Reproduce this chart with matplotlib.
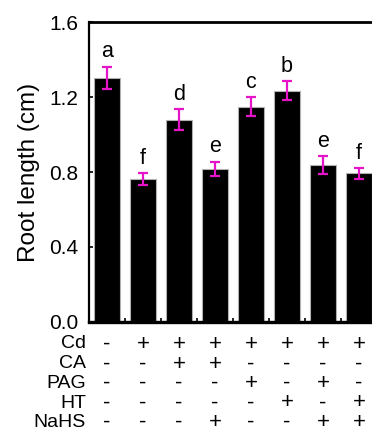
import matplotlib
matplotlib.use("Agg")
import matplotlib.pyplot as plt
import numpy as np

plt.rcParams['font.family'] = ['Liberation Sans', 'DejaVu Sans']

values = [1.304, 0.762, 1.080, 0.816, 1.149, 1.235, 0.837, 0.793]
errors = [0.060, 0.034, 0.055, 0.040, 0.052, 0.051, 0.050, 0.028]
letters = ['a', 'f', 'd', 'e', 'c', 'b', 'e', 'f']
row_names = ['Cd', 'CA', 'PAG', 'HT', 'NaHS']
rows = [
    ['-', '+', '+', '+', '+', '+', '+', '+'],
    ['-', '-', '+', '+', '-', '-', '-', '-'],
    ['-', '-', '-', '-', '+', '-', '+', '-'],
    ['-', '-', '-', '-', '-', '+', '-', '+'],
    ['-', '-', '-', '+', '-', '-', '+', '+'],
]
yticks = [0.0, 0.4, 0.8, 1.2, 1.6]

W, H = 372, 432
fig = plt.figure(figsize=(W / 100, H / 100), dpi=100)
ax = fig.add_axes([89 / W, 110.5 / H, 288 / W, 299 / H])

x = np.arange(len(values))
ax.bar(x, values, width=0.74, color='black', edgecolor='#b0b0b0', linewidth=0.8, zorder=2)
ax.errorbar(x, values, yerr=errors, fmt='none', ecolor='#E614C8', elinewidth=1.6,
            capsize=3.6, capthick=1.6, zorder=3)
for xi, v, e, l in zip(x, values, errors, letters):
    ax.annotate(l, (xi, v + e), xytext=(0, 3), textcoords='offset points',
                ha='center', va='bottom', fontsize=15.5)

ax.set_xlim(-0.5, len(values) - 0.5)
ax.set_ylim(0, 1.6)
ax.set_yticks(yticks)
ax.set_yticklabels([f'{t:.1f}' for t in yticks], fontsize=15)
ax.set_xticks(np.arange(0.5, len(values) - 0.5, 1.0))
ax.set_xticklabels([])
ax.tick_params(axis='x', direction='in', length=3, width=1.2, color='black')
ax.tick_params(axis='y', direction='in', length=3, width=1.2, pad=8)
ax.spines['left'].set_linewidth(1.6)
ax.spines['top'].set_linewidth(2)
ax.spines['bottom'].set_linewidth(2.4)
ax.spines['right'].set_visible(False)
ax.set_ylabel('Root length (cm)', fontsize=17.5, labelpad=6)

row_y = [344, 364, 383.5, 403, 422.5]
for name, row, yp in zip(row_names, rows, row_y):
    fy = 1 - yp / H
    fig.text(86 / W, fy, name, ha='right', va='center', fontsize=14)
    for xi, sgn in zip(x, row):
        xd = ax.transData.transform((xi, 0))[0]
        fx = xd / W
        fig.text(fx, fy, sgn, ha='center', va='center', fontsize=16)

fig.savefig('out.png', dpi=100)
